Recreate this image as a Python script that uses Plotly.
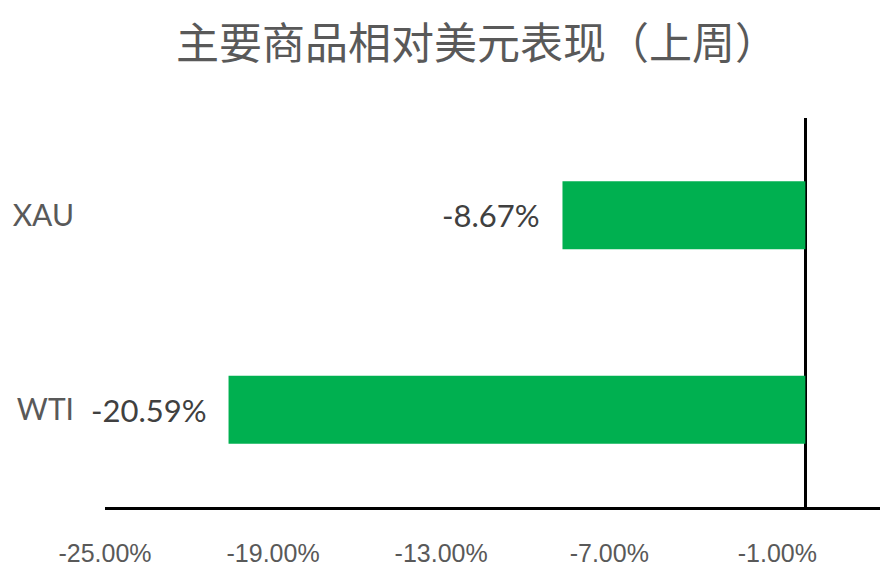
import plotly.graph_objects as go

# --- data ---
TITLE = "主要商品相对美元表现（上周）"
categories = ["XAU", "WTI"]
values = [-8.67, -20.59]
value_labels = ["-8.67%", "-20.59%"]
x_tickvals = [-25, -19, -13, -7, -1]
x_ticktext = ["-25.00%", "-19.00%", "-13.00%", "-7.00%", "-1.00%"]

BAR_COLOR = "#00B050"

fig = go.Figure()

fig.add_trace(go.Bar(
    y=categories, x=values, orientation="h",
    marker=dict(color=BAR_COLOR, line=dict(width=0)),
    hoverinfo="skip", showlegend=False,
))

# data labels sit a little left of each bar end
for cat, val, lab in zip(categories, values, value_labels):
    fig.add_annotation(
        x=val, y=cat, text=lab, showarrow=False,
        xanchor="right", yanchor="middle", xshift=-20,
        font=dict(family="Lato, Open Sans, sans-serif", size=31, color="#404040"),
    )

# chart title as a paper-anchored annotation
fig.add_annotation(
    text=TITLE, xref="paper", yref="paper", x=0.48, y=1.2,
    xanchor="center", yanchor="middle", showarrow=False,
    font=dict(family="Noto Sans CJK SC", size=43, color="#595959"),
)

# page body adds an 8px offset, margins compensate for it
fig.update_layout(
    width=888, height=587,
    margin=dict(l=97, r=15, t=110, b=88),
    paper_bgcolor="white", plot_bgcolor="white",
    bargap=0.65,
    xaxis=dict(
        range=[-25, 2.7], tickvals=x_tickvals, ticktext=x_ticktext,
        showgrid=False, ticks="", ticklabelstandoff=22, automargin=False,
        showline=True, linecolor="black", linewidth=2.5,
        zeroline=True, zerolinecolor="black", zerolinewidth=2.5,
        tickfont=dict(family="Liberation Sans, Arial, sans-serif",
                      size=25, color="#595959"),
        fixedrange=True,
    ),
    yaxis=dict(
        autorange="reversed", showgrid=False, zeroline=False, showline=False,
        ticks="", ticklabelstandoff=30, automargin=False,
        tickfont=dict(family="Lato, Open Sans, sans-serif", size=30, color="#595959"),
        fixedrange=True,
    ),
)

fig.write_html("out.html")
